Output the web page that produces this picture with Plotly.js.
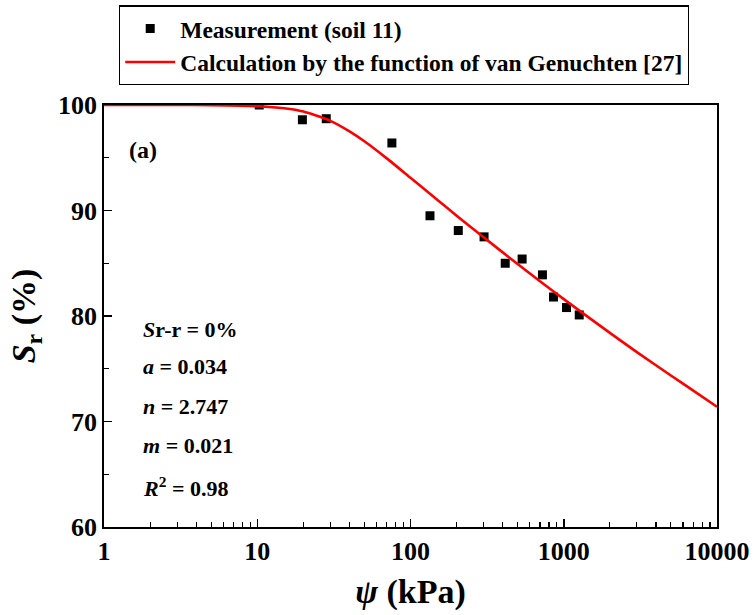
<!DOCTYPE html>
<html>
<head>
<meta charset="utf-8">
<script src="https://cdn.plot.ly/plotly-3.0.1.min.js"></script>
<style>html,body{margin:0;padding:0;background:#fff;}#chart{width:755px;height:615px;}</style>
</head>
<body>
<div id="chart"></div>
<script>
// Measured points (soil 11)
var measSuction = [10.3, 19.7, 28.2, 75.6, 134, 205, 302, 415, 535, 726, 857, 1042, 1262];
var measSr      = [100.0, 98.6, 98.7, 96.4, 89.5, 88.1, 87.5, 85.0, 85.4, 83.9, 81.8, 80.8, 80.1];

// van Genuchten curve
var curveSuction = [1, 3, 5, 10, 15, 20, 30, 40, 50, 70, 100, 150, 200, 300, 500, 700, 1000, 2000, 3000, 5000, 7000, 10000];
var curveSr      = [100.0, 100.0, 99.98, 99.89, 99.69, 99.38, 98.5, 97.5, 96.56, 94.94, 93.1, 91.0, 89.5, 87.46, 84.92, 83.29, 81.6, 78.4, 76.58, 74.36, 72.93, 71.4];

var xTickVals = [1, 10, 100, 1000, 10000];
var xTickText = ['1', '10', '100', '1000', '10000'];
var yTickVals = [60, 70, 80, 90, 100];

var paramLines = ['<i>S</i>r-r = 0%', '<i>a</i> = 0.034', '<i>n</i> = 2.747', '<i>m</i> = 0.021', '<i>R</i><sup>2</sup> = 0.98'];
var paramY = [0.469, 0.3815, 0.2867, 0.192, 0.0948];

var FONT = "'Liberation Serif', 'Times New Roman', serif";

var traces = [
  {
    x: measSuction, y: measSr, mode: 'markers', type: 'scatter',
    name: '<b>Measurement (soil 11)</b>',
    marker: {symbol: 'square', size: 9, color: '#000'}
  },
  {
    x: curveSuction, y: curveSr, mode: 'lines', type: 'scatter',
    name: '<b>Calculation by the function of van Genuchten [27]</b>',
    line: {color: '#ff0000', width: 2.6, shape: 'spline', smoothing: 0.6}
  }
];

var annotations = [{
  text: '<b>(a)</b>', xref: 'paper', yref: 'paper', x: 0.037, y: 0.893,
  xanchor: 'left', yanchor: 'middle', showarrow: false,
  font: {family: FONT, size: 24, color: '#000'}
}];
for (var i = 0; i < paramLines.length; i++) {
  annotations.push({
    text: '<b>' + paramLines[i] + '</b>', xref: 'paper', yref: 'paper',
    x: 0.06, y: paramY[i], xanchor: 'left', yanchor: 'middle', showarrow: false,
    font: {family: FONT, size: 22, color: '#000'}
  });
}

var layout = {
  width: 755, height: 615,
  margin: {l: 104, r: 38, t: 105, b: 88, autoexpand: false},
  paper_bgcolor: '#fff', plot_bgcolor: '#fff',
  font: {family: FONT, color: '#000'},
  showlegend: true,
  legend: {
    x: 0.0245, y: 1.236, xanchor: 'left', yanchor: 'top',
    bordercolor: '#000', borderwidth: 1.2, bgcolor: '#fff',
    font: {family: FONT, size: 23.5, color: '#000'},
    itemwidth: 50, tracegroupgap: 0
  },
  xaxis: {
    type: 'log', range: [0, 4],
    tickvals: xTickVals, ticktext: xTickText,
    ticks: 'inside', ticklen: 8, tickwidth: 1.5, tickcolor: '#000',
    minor: {ticks: 'inside', ticklen: 5, tickwidth: 1.2, tickcolor: '#000', dtick: 'D1', showgrid: false},
    showline: true, linecolor: '#000', linewidth: 1.8, mirror: true,
    showgrid: false, zeroline: false,
    tickfont: {family: FONT, size: 26, color: '#000', weight: 'bold'},
    title: {text: '<b><i>ψ</i> (kPa)</b>', font: {family: FONT, size: 34, color: '#000'}, standoff: 14}
  },
  yaxis: {
    range: [60, 100], tickvals: yTickVals,
    ticks: 'inside', ticklen: 8, tickwidth: 1.5, tickcolor: '#000',
    minor: {ticks: 'inside', ticklen: 5, tickwidth: 1.2, tickcolor: '#000', dtick: 5, showgrid: false},
    showline: true, linecolor: '#000', linewidth: 1.8, mirror: true,
    showgrid: false, zeroline: false,
    tickfont: {family: FONT, size: 26, color: '#000', weight: 'bold'},
    title: {text: '<b><i>S</i><sub>r</sub> (%)</b>', font: {family: FONT, size: 34, color: '#000'}, standoff: 12}
  },
  annotations: annotations
};

Plotly.newPlot('chart', traces, layout, {displayModeBar: false, staticPlot: true});
</script>
</body>
</html>
